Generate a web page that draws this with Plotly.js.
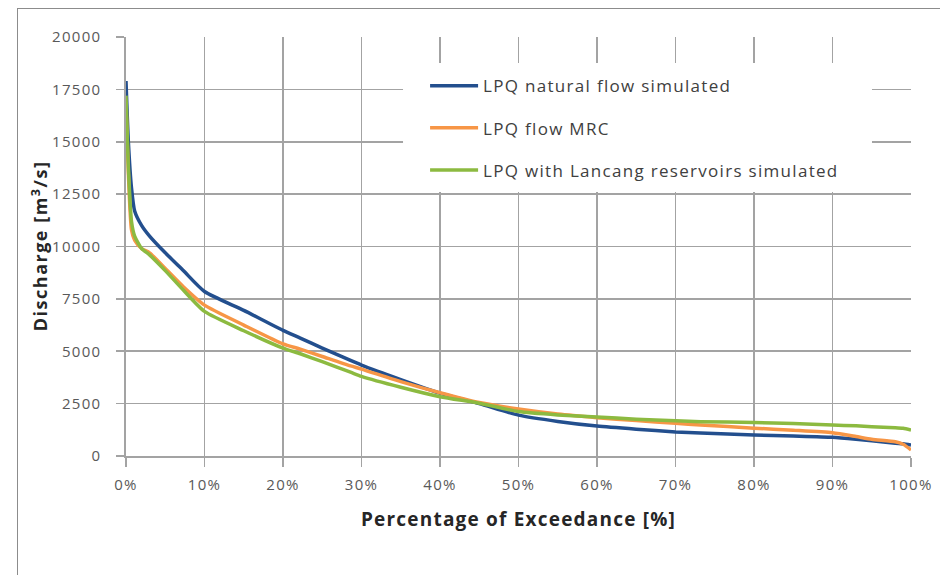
<!DOCTYPE html>
<html>
<head>
<meta charset="utf-8">
<script src="https://cdn.plot.ly/plotly-3.0.1.min.js"></script>
<style>
  html, body { margin: 0; padding: 0; background: #ffffff; overflow: hidden; }
  #frame { position: absolute; left: 17px; top: 8px; width: 1000px; height: 700px; border: 1px solid #8c8c8c; }
  #chart { position: absolute; left: 0; top: 0; width: 940px; height: 575px; }
  .xtick text, .ytick text { letter-spacing: 1.3px; }
  .legendtext { letter-spacing: 1.3px; }
  .xtitle { letter-spacing: 1.2px; }
  .annotation-text { letter-spacing: 1.5px; }
</style>
</head>
<body>
<div id="frame"></div>
<div id="chart"></div>
<script>
// Percentage of exceedance [%]
const exceedance = [0, 0.3, 0.7, 1.1, 2, 3, 5, 7.3, 10, 15, 20, 22.2, 25, 28.6, 30, 35, 40, 45, 50, 55, 60, 65, 70, 73.2, 80, 85, 90, 93, 95, 98, 99, 100];

// Discharge [m3/s]
const naturalFlow = [17900, 15000, 12800, 11700, 11000, 10500, 9700, 8850, 7850, 6950, 6000, 5630, 5150, 4560, 4340, 3650, 3000, 2500, 1950, 1650, 1430, 1280, 1150, 1100, 1000, 950, 890, 800, 730, 610, 580, 520];
const flowMRC     = [16900, 13500, 10800, 10300, 9900, 9700, 8950, 8080, 7200, 6250, 5350, 5100, 4750, 4300, 4150, 3550, 3020, 2550, 2240, 2000, 1830, 1690, 1560, 1480, 1330, 1230, 1110, 930, 800, 680, 560, 290];
const withReservoirs = [17200, 13800, 11200, 10500, 9900, 9600, 8850, 7920, 6900, 5980, 5150, 4880, 4500, 4000, 3800, 3280, 2830, 2520, 2120, 1960, 1860, 1760, 1680, 1640, 1600, 1550, 1480, 1440, 1400, 1350, 1320, 1240];

const seriesNames = ["LPQ natural flow simulated", "LPQ flow MRC", "LPQ with Lancang reservoirs simulated"];
const seriesColors = ["#234f8e", "#f79646", "#8cba40"];
const seriesValues = [naturalFlow, flowMRC, withReservoirs];

const yTicks = [0, 2500, 5000, 7500, 10000, 12500, 15000, 17500, 20000];
const xTicks = [0, 10, 20, 30, 40, 50, 60, 70, 80, 90, 100];

const xTitle = "Percentage of Exceedance [%]";
const yTitle = "Discharge [m<sup>3</sup>/s]";

const traces = seriesValues.map((vals, i) => ({
  type: "scatter",
  mode: "lines",
  x: exceedance,
  y: vals,
  name: seriesNames[i],
  legendgroup: "g" + i,
  line: { color: seriesColors[i], width: 3.5, shape: "spline", smoothing: 0.6 },
  hoverinfo: "x+y+name"
}));

const gridColor = "#a3a3a3";
const tickFont = { family: "Open Sans, sans-serif", size: 15, color: "#595959" };
const titleFont = { family: "Open Sans, sans-serif", size: 19, color: "#262626", weight: "bold" };

const layout = {
  width: 940,
  height: 575,
  margin: { l: 126, r: 29, t: 37, b: 119 },
  paper_bgcolor: "rgba(0,0,0,0)",
  plot_bgcolor: "#ffffff",
  showlegend: true,
  legend: {
    x: 0.381, y: 0.9255, xanchor: "left", yanchor: "top",
    bgcolor: "rgba(0,0,0,0)",
    borderwidth: 0,
    itemwidth: 48,
    tracegroupgap: 17,
    font: { family: "Open Sans, sans-serif", size: 17, color: "#404040" }
  },
  xaxis: {
    range: [0, 100],
    tickvals: xTicks,
    ticktext: xTicks.map(v => v + "%"),
    showgrid: true, gridcolor: gridColor, gridwidth: 1.6,
    showline: true, linecolor: gridColor, linewidth: 1.6,
    ticks: "outside", ticklen: 9, tickcolor: gridColor, tickwidth: 1.6,
    ticklabelstandoff: 5,
    zeroline: false,
    tickfont: tickFont,
    title: { text: xTitle, font: titleFont, standoff: 20 },
    fixedrange: true
  },
  yaxis: {
    range: [0, 20000],
    tickvals: yTicks,
    ticktext: yTicks.map(v => String(v)),
    showgrid: true, gridcolor: gridColor, gridwidth: 1.6,
    showline: true, linecolor: gridColor, linewidth: 1.6,
    ticks: "outside", ticklen: 8, tickcolor: gridColor, tickwidth: 1.6,
    ticklabelstandoff: 12,
    zeroline: false,
    tickfont: tickFont,
    fixedrange: true
  },
  annotations: [{
    text: yTitle,
    xref: "paper", yref: "paper",
    x: -0.1096, y: 0.503,
    xanchor: "center", yanchor: "middle",
    textangle: -90,
    showarrow: false,
    font: { family: "Open Sans, sans-serif", size: 18, color: "#262626", weight: "bold" }
  }],
  shapes: [{
    type: "rect", xref: "paper", yref: "paper",
    x0: 0.3529, x1: 0.9503, y0: 0.630, y1: 0.938,
    fillcolor: "#ffffff", line: { width: 0 }, layer: "above"
  }]
};

Plotly.newPlot("chart", traces, layout, { displayModeBar: false, staticPlot: true });
</script>
</body>
</html>
